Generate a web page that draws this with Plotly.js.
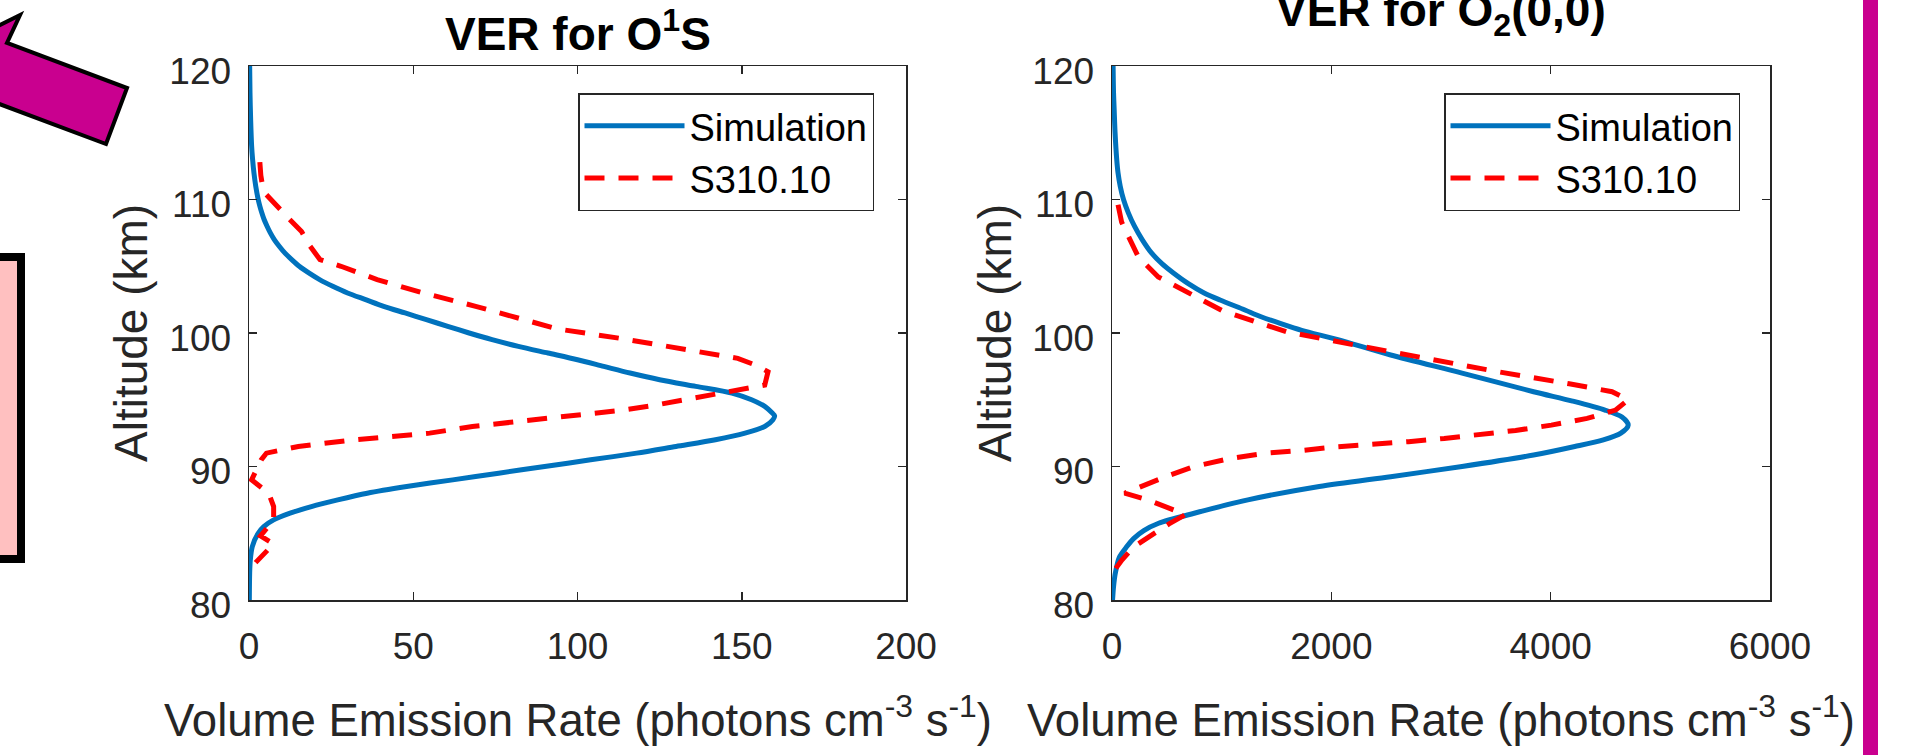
<!DOCTYPE html>
<html>
<head>
<meta charset="utf-8">
<script src="https://cdn.plot.ly/plotly-3.0.1.min.js"></script>
<style>
  html, body { margin: 0; padding: 0; background: #ffffff; }
  #chart { width: 1909px; height: 755px; }
</style>
</head>
<body>
<div id="chart"></div>
<script>
// ---------------- data ----------------
// Left panel: VER for O(1S)   x: photons cm^-3 s^-1, y: altitude km
const altSimO1S = [120,118,116,114,113,112,111,110,109.5,109,108.5,108,107.5,107,106.5,106,105.5,105,104.5,104,103.5,103,102.5,102,101.5,101,100.5,100,99.5,99,98.5,98,97.5,97,96.5,96,95.5,95,94.5,94,93.8,93.5,93,92.5,92,91.5,91,90.5,90,89.5,89,88.5,88,87.5,87,86.5,86,85.5,85,84,83,82,80];
const verSimO1S = [0.2,0.3,0.5,0.8,1.1,1.5,2.05,2.8,3.3,3.9,4.6,5.5,6.5,7.7,9.2,10.9,13,15.3,18.2,21.5,25.5,30,35.5,41,47.5,54,60.5,67,74,82,91,100,108,116,125,136,147,153,157,159.3,160,159.5,157,151,142,130,118,104,90,76,62,48,36,27,19,12.5,7.5,4.5,2.8,1.0,0.4,0.2,0.1];

const altObsO1S = [112.8,111.8,110.6,109.5,108.6,107.6,106.5,105.5,105,104,103,102,101,100.3,99.6,98.7,98.1,97.6,97.1,96.1,95.6,95.1,94.6,94.2,93.6,93,92.5,92,91.5,91,90.5,89,88,87,86,84.8,84.2,82.8];
const verObsO1S = [3.3,3.6,4.4,8.4,12,16,18.6,21.6,28,39,53,69,83,94,113,134.7,148.8,154.2,158,157,146.6,134.7,123.8,113,91,68,55,32,15,5.3,3.7,0.8,6,7.5,7.5,3.5,7.5,2];

// Right panel: VER for O2(0,0)
const altSimO2 = [120,118,116.7,115,113,112,111,110,109,108,107,106,105.2,104.5,103.7,103,102.47,101.8,101.2,100.7,100.2,99.5,98.35,97,95.6,94.9,94.23,93.7,93.1,92.5,92,91.5,90.86,90,89.24,88.5,87.5,86.5,85.75,85.2,84.6,84,83.2,82,81,80];
const verSimO2 = [10,14,20,28,43,55,75,105,149,205,275,360,455,560,696,840,985,1190,1365,1540,1730,2060,2541,3192,3844,4200,4495,4650,4707,4640,4480,4220,3844,3192,2541,1890,1239,750,425,290,197,135,67,30,14,5];

const altObsO2 = [109.6,108.3,107,105.7,104.2,103,101.7,100.85,100.1,99.1,98.1,97.1,96.2,95.6,95.0,94.23,93.6,93.1,92.7,92.36,92.1,91.86,91.7,91.48,91.2,91.0,90.6,90.0,89.24,88.5,88.0,87.5,86.9,86.4,85.7,84.7,84.0,83.0,82.2];
const verObsO2 = [55,88,164,240,422,696,1000,1304,1590,2215,2866,3518,4169,4560,4707,4593,4332,4006,3680,3355,3029,2704,2378,2052,1727,1401,1075,750,489,261,115,327,506,670,520,330,200,90,20];

const seriesNames = ['Simulation', 'S310.10'];
const xTicksO1S = [0, 50, 100, 150, 200];
const xTicksO2 = [0, 2000, 4000, 6000];
const yTicks = [80, 90, 100, 110, 120];
const panelTitles = ['<b>VER for O<sup>1</sup>S</b>', '<b>VER for O<sub>2</sub>(0,0)</b>'];
const xTitle = 'Volume Emission Rate (photons cm<sup>-3</sup> s<sup>-1</sup>)';
const yTitle = 'Altitude (km)';

// ---------------- layout helpers ----------------
const W = 1909, H = 755;
const px = x => x / W;
const py = y => 1 - y / H;
const FONT = 'Liberation Sans, Arial, Helvetica, sans-serif';
const AX = '#262626';
const BLUE = '#0072BD', RED = '#FF0000', MAGENTA = '#C9008F';

function axisCommon(extra) {
  return Object.assign({
    ticks: 'inside', ticklen: 8, tickwidth: 1.5, tickcolor: AX,
    showline: true, linewidth: 1.5, linecolor: AX, mirror: 'ticks',
    showgrid: false, zeroline: false, fixedrange: true,
    tickfont: { family: FONT, size: 37, color: AX }
  }, extra);
}

const simLine = { color: BLUE, width: 5, shape: 'spline', smoothing: 0.8 };
const obsLine = { color: RED, width: 5, dash: '20px,14px' };

const traces = [
  { x: verSimO1S, y: altSimO1S, xaxis: 'x', yaxis: 'y', mode: 'lines', name: seriesNames[0],
    line: simLine, legend: 'legend', hoverinfo: 'x+y' },
  { x: verObsO1S, y: altObsO1S, xaxis: 'x', yaxis: 'y', mode: 'lines', name: seriesNames[1],
    line: obsLine, legend: 'legend', hoverinfo: 'x+y' },
  { x: verSimO2, y: altSimO2, xaxis: 'x2', yaxis: 'y2', mode: 'lines', name: seriesNames[0],
    line: simLine, legend: 'legend2', hoverinfo: 'x+y' },
  { x: verObsO2, y: altObsO2, xaxis: 'x2', yaxis: 'y2', mode: 'lines', name: seriesNames[1],
    line: obsLine, legend: 'legend2', hoverinfo: 'x+y' }
];

// decorative shapes (arrow, pink box, magenta bar)
const arrowPx = [[-54,52],[20,15],[7,43],[127,88],[106,144],[-14,99],[-24.5,127]];
const arrowPath = arrowPx.map((p, i) => (i ? 'L' : 'M') + px(p[0]).toFixed(5) + ',' + py(p[1]).toFixed(5)).join(' ') + ' Z';

const legendCommon = {
  bordercolor: AX, borderwidth: 1.5, bgcolor: '#ffffff',
  font: { family: FONT, size: 38, color: '#000000' },
  itemwidth: 100, tracegroupgap: 0,
  yanchor: 'top', xanchor: 'right'
};

const ann = (text, x, y, size, opts) => Object.assign({
  text: text, x: x, y: y, xref: 'paper', yref: 'paper', showarrow: false,
  font: { family: FONT, size: size, color: AX }
}, opts);

const yAxisExtra = { range: [80, 120], tickvals: yTicks, ticklabelstandoff: 9, ticklabelshift: 5 };

const layout = {
  width: W, height: H,
  margin: { l: 0, r: 0, t: 0, b: 0 },
  paper_bgcolor: '#ffffff', plot_bgcolor: '#ffffff',
  showlegend: true,
  xaxis: axisCommon({ domain: [px(249), px(906)], range: [0, 200], tickvals: xTicksO1S, anchor: 'y', ticklabelstandoff: 13 }),
  yaxis: axisCommon(Object.assign({ domain: [py(600), py(66)], anchor: 'x' }, yAxisExtra)),
  xaxis2: axisCommon({ domain: [px(1112), px(1770)], range: [0, 6000], tickvals: xTicksO2, anchor: 'y2', ticklabelstandoff: 13 }),
  yaxis2: axisCommon(Object.assign({ domain: [py(600), py(66)], anchor: 'x2' }, yAxisExtra)),
  legend: Object.assign({}, legendCommon, { x: px(874), y: py(93) }),
  legend2: Object.assign({}, legendCommon, { x: px(1740), y: py(93) }),
  annotations: [
    ann(panelTitles[0], px(577.5), py(62.5), 46, { xanchor: 'center', yanchor: 'bottom', font: { family: FONT, size: 46, color: '#000' } }),
    ann(panelTitles[1], px(1441), py(44.6), 46, { xanchor: 'center', yanchor: 'bottom', font: { family: FONT, size: 46, color: '#000' } }),
    ann(xTitle, px(577.5), py(748), 45.5, { xanchor: 'center', yanchor: 'bottom' }),
    ann(xTitle, px(1441), py(748), 45.5, { xanchor: 'center', yanchor: 'bottom' }),
    ann(yTitle, px(131), py(333), 46, { xanchor: 'center', yanchor: 'middle', textangle: -90 }),
    ann(yTitle, px(995), py(333), 46, { xanchor: 'center', yanchor: 'middle', textangle: -90 })
  ],
  shapes: [
    { type: 'path', xref: 'paper', yref: 'paper', path: arrowPath, fillcolor: MAGENTA, line: { color: '#000', width: 4 } },
    { type: 'rect', xref: 'paper', yref: 'paper', x0: px(-10), x1: px(21), y0: py(559), y1: py(257),
      fillcolor: '#FFC0C0', line: { color: '#000', width: 8 } },
    { type: 'rect', xref: 'paper', yref: 'paper', x0: px(1863), x1: px(1878), y0: 0, y1: 1,
      fillcolor: MAGENTA, line: { width: 0 } }
  ]
};

Plotly.newPlot('chart', traces, layout, { displayModeBar: false, staticPlot: true });
</script>
</body>
</html>
